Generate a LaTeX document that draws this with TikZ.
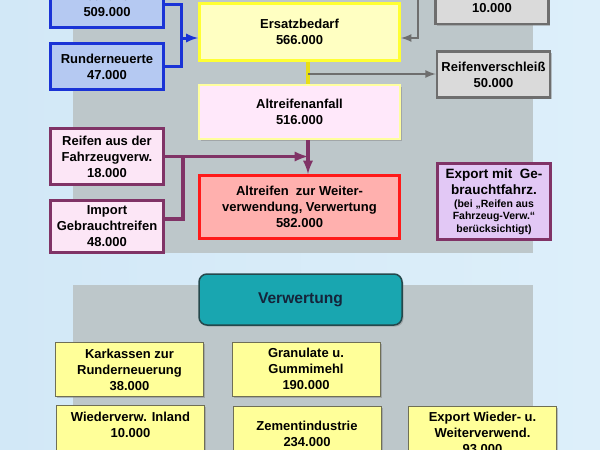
\documentclass[tikz,border=0pt]{standalone}
\usepackage{fontspec}
\setmainfont{Liberation Sans}
\usetikzlibrary{shadows}

\definecolor{bgleft}{HTML}{D2E8F7}
\definecolor{bgright}{HTML}{DDEFFA}
\definecolor{panel}{HTML}{BDC7CA}
\definecolor{bluefill}{HTML}{B5C9F2}
\definecolor{blueline}{HTML}{1A33D6}
\definecolor{yellowfill}{HTML}{FFFFC2}
\definecolor{yellowline}{HTML}{FFFF33}
\definecolor{pinkfill}{HTML}{FFE8FA}
\definecolor{paleyellow}{HTML}{FFFF9E}
\definecolor{purplefill}{HTML}{FCE6F6}
\definecolor{purpleline}{HTML}{803366}
\definecolor{salmon}{HTML}{FFB0AE}
\definecolor{redline}{HTML}{FF1A1A}
\definecolor{lavender}{HTML}{E2C8F5}
\definecolor{grayfill}{HTML}{DADADA}
\definecolor{grayline}{HTML}{6E6E6E}
\definecolor{tealfill}{HTML}{19A6B0}
\definecolor{tealline}{HTML}{24484C}
\definecolor{navy}{HTML}{15243A}
\definecolor{lowyellow}{HTML}{FFFF99}
\definecolor{lowline}{HTML}{6F6F55}

\begin{document}
\begin{tikzpicture}[x=1pt,y=-1pt,
		box/.style={draw,align=center,inner sep=0pt,font=\bfseries\fontsize{13}{16}\selectfont,
			drop shadow={shadow xshift=1.5pt,shadow yshift=-1.5pt,opacity=.45}},
		bluebox/.style={box,line width=3pt,draw=blueline,fill=bluefill,minimum width=113pt,minimum height=46pt},
		purplebox/.style={box,line width=3pt,draw=purpleline,fill=purplefill,minimum width=113pt},
		graybox/.style={box,line width=2.5pt,draw=grayline,fill=grayfill,minimum width=113pt},
		lowbox/.style={box,line width=1pt,draw=lowline,fill=lowyellow,minimum width=148pt,minimum height=54pt,drop shadow={opacity=0}},
		bluelink/.style={line width=3pt,blueline},
		graylink/.style={line width=2.5pt,grayline},
		purplelink/.style={line width=3.5pt,purpleline}]
		\useasboundingbox (0,0) rectangle (600,450);
		\clip (0,0) rectangle (600,450);
		\shade[left color=bgleft,middle color=white,right color=bgright] (0,0) rectangle (600,450);
		\fill[panel] (73,-5) rectangle (533,253);
		\fill[panel] (73,285) rectangle (533,460);

		\begin{scope}
			\node[bluebox] (neu) at (107,4) {Neureifen\\509.000};
			\node[bluebox] (rund) at (107,66.5) {Runderneuerte\\47.000};
			\node[box,line width=3pt,draw=yellowline,fill=yellowfill,minimum width=200pt,minimum height=57pt] (ersatz) at (299.5,32) {Ersatzbedarf\\566.000};
			\node[box,line width=2pt,draw=paleyellow,fill=pinkfill,minimum width=201pt,minimum height=54pt] (anfall) at (299.5,112) {Altreifenanfall\\516.000};
			\node[graybox,minimum height=50pt] (exnew) at (492,-1) {\strut\\10.000};
			\node[graybox,minimum height=46pt] (verschl) at (493.5,74.5) {Reifenverschleiß\\50.000};
			\node[purplebox,minimum height=56pt] (fzg) at (107,156.5) {Reifen aus der\\Fahrzeugverw.\\18.000};
			\node[purplebox,minimum height=52pt] (import) at (107,226.5) {Import\\Gebrauchtreifen\\48.000};
			\node[box,line width=3pt,draw=redline,fill=salmon,minimum width=200pt,minimum height=63pt] (weiter) at (299.5,207) {Altreifen\ \ zur Weiter-\\verwendung, Verwertung\\582.000};
			\node[box,line width=3pt,draw=purpleline,fill=lavender,minimum width=113pt,minimum height=76pt,font=\bfseries\fontsize{13.5}{16.5}\selectfont] (exfzg) at (494,201.5)
				{Export mit\ \ Ge-\\brauchtfahrz.\\[-4pt]\fontsize{10.5}{13}\selectfont(bei „Reifen aus\\[-4pt]\fontsize{10.5}{13}\selectfont Fahrzeug-Verw.“\\[-3.5pt]\fontsize{10.5}{13}\selectfont berücksichtigt)};

			\coordinate (bj) at (181,38);
			\coordinate (gj) at (418,38);
			\coordinate (ej) at (308,74);
			\coordinate (pj) at (183,157);
			\draw[bluelink] (neu.east) -| (bj) |- (rund.east);
			\draw[bluelink,-latex] (bj) -- (bj -| ersatz.west);
			\draw[graylink,-latex] ([yshift=10pt]exnew.west) -| (gj) -- (gj -| ersatz.east);
			\draw[line width=3.5pt,yellow!90!black] (ersatz.south -| ej) -- (anfall.north -| ej);
			\draw[graylink,-latex] (ej) -- (ej -| verschl.west);
			\draw[purplelink,-latex] (anfall.south -| ej) -- (weiter.north -| ej);
			\draw[purplelink,-latex] (fzg.east) -- (fzg.east -| ej);
			\draw[purplelink] ([yshift=7.5pt]import.east) -| (pj);
		\end{scope}

		\begin{scope}
			\node[box,rounded corners=8pt,line width=1.5pt,draw=tealline,fill=tealfill,text=navy,minimum width=203pt,minimum height=51pt,font=\bfseries\fontsize{15.6}{18}\selectfont] (verw) at (300.5,299.5) {Verwertung};
			\node[lowbox] (kark) at (129.5,369.5) {Karkassen zur\\Runderneuerung\\38.000};
			\node[lowbox] (gran) at (306,369) {Granulate u.\\Gummimehl\\190.000};
			\node[lowbox] (inland) at (130.5,432.5) {Wiederverw. Inland\\10.000\\\mbox{}};
			\node[lowbox] (zement) at (307,433.5) {Zementindustrie\\234.000};
			\node[lowbox] (expww) at (482.5,433) {Export Wieder- u.\\Weiterverwend.\\93.000};
		\end{scope}
	\end{tikzpicture}
\end{document}
